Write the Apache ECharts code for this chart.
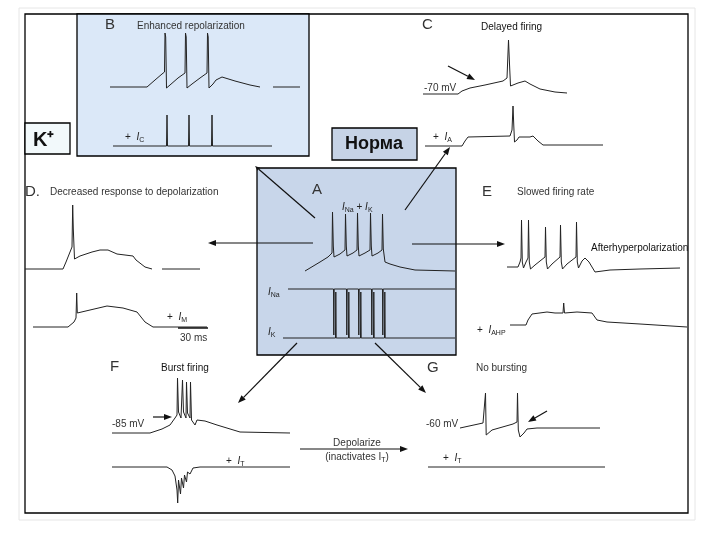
<!DOCTYPE html>
<html>
<head>
<meta charset="utf-8">
<script src="https://cdn.jsdelivr.net/npm/echarts@6/dist/echarts.min.js"></script>
<style>
  html, body { margin: 0; padding: 0; background: #fff; }
  #chart { width: 720px; height: 540px; }
</style>
</head>
<body>
<div id="chart"></div>
<script>
// traces: [time (ms), voltage (rel. units)], null = gap in the recording
// B - enhanced repolarization
const traceB1 = [[0,0],[37,0],[45,7],[52,13],[54.5,15],[55,54],[55.7,50],[56.5,-1],[60,2],[68,9],[75,14],[75.5,54],[76.2,50],[77,-1],[82,3],[90,9],[97,14],[97.5,54],[98.2,50],[99,-1],[103,3],[106,7],[112,10],[125,6],[140,2],[150,0],null,[163,0],[190,0]]
const traceB2 = [[0,0],[53.5,0],[54,31],[54.5,0],[75.5,0],[76,31],[76.5,0],[98.5,0],[99,31],[99.5,0],[159,0]]
// C - delayed firing
const traceC1 = [[0,0],[35,0],[39,3],[47,6],[62,9],[80,13],[84,16],[85.5,54],[86.5,30],[87.5,8],[89,10],[95,11],[102,13],[107,10],[117,5],[132,2],[144,1]]
const traceC2 = [[0,0],[37,0],[40,5],[43,9],[85,10],[87,16],[88,40],[88.8,20],[89.5,4],[92,6],[94,9],[105,9],[108,10],[113,5],[118,1],[178,1]]
// D - decreased response to depolarization
const traceD1 = [[0,0],[38,0],[41,7],[45,17],[47,22],[47.7,64],[48.3,40],[49.5,10],[55,13],[67,17],[75,19],[83,19],[92,15],[108,13],[111,9],[120,2],[127,0],null,[137,0],[175,0]]
const traceD2 = [[0,0],[35,0],[41,5],[43,9],[43.7,34],[44.3,14],[57,17],[74,21],[90,19],[104,15],[112,5],[120,0],[174,0]]
// A - normal firing, I_Na and I_K
const traceA1 = [[0,0],[5,3],[15,9],[23,14],[27,18],[27.5,59],[28.3,25],[29,14],[35,17],[40,21],[40.5,57],[41.3,25],[42,15],[48,18],[52,21],[52.5,58],[53.3,25],[54,15],[60,18],[65,21],[65.5,58],[66.3,25],[67,15],[73,18],[77,21],[77.5,57],[78.3,22],[80,9],[85,7],[95,4],[110,1],[150,0]]
const traceANa = [[0,0],[45.5,0],[45.8,-46],[46.2,0],[58.5,0],[58.8,-46],[59.2,0],[70.5,0],[70.8,-46],[71.2,0],[83.5,0],[83.8,-46],[84.2,0],[94.5,0],[94.8,-46],[95.2,0],[167,0]]
const traceAK = [[0,0],[52.5,0],[52.8,46],[53.2,0],[65.5,0],[65.8,46],[66.2,0],[77.5,0],[77.8,46],[78.2,0],[90.5,0],[90.8,46],[91.2,0],[101.5,0],[101.8,46],[102.2,0],[172,0]]
// E - slowed firing rate
const traceE1 = [[0,0],[11,0],[13,5],[14,9],[14.5,47],[15.3,5],[16.5,-1],[19,5],[21,9],[21.5,47],[22.3,5],[23.5,-2],[28,2],[38,10],[38.5,40],[39.3,5],[40.5,-2],[45,3],[53,10],[53.5,42],[54.3,5],[55.5,-2],[60,3],[69,10],[69.5,45],[70.3,5],[71.5,-1],[75,6],[78,9],[82,5],[88,-5],[103,-3],[133,-2],[173,-1]]
const traceE2 = [[0,0],[16,0],[18,5],[22,11],[37,13],[45,12],[53,12],[53.7,22],[54.5,12],[67,13],[82,12],[87,5],[97,3],[130,1],[177,-2]]
// F - burst firing
const traceF1 = [[0,0],[38,0],[50,4],[58,8],[63,15],[65,18],[65.5,55],[66.5,21],[69,15],[70.5,53],[71.5,21],[74,15],[74.5,51],[75.5,20],[78,15],[78.5,51],[79.5,13],[83,8],[85,13],[93,12],[105,8],[128,1],[178,0]]
const traceF2 = [[0,0],[55,0],[60,-3],[63,-9],[65,-23],[65.7,-36],[66.5,-13],[68.5,-27],[69.5,-11],[71.5,-21],[72.5,-8],[74.5,-15],[75.5,-5],[78,-7],[81,-1],[88,0],[178,0]]
// G - no bursting
const traceG1 = [[0,0],[23,5],[25,6],[25.5,35],[26.2,-7],[27.5,-9],[32,-2],[53,4],[57,6],[57.5,35],[58.3,-2],[60,-9],[64,-5],[67,-1],[77,0],[140,0]]
const traceG2 = [[0,0],[177,0]]

// where each trace starts on the page (left px, baseline px)
const anchors = [
  [traceB1, 110, 87], [traceB2, 113, 146],
  [traceC1, 423, 94], [traceC2, 425, 146],
  [traceD1, 25, 269], [traceD2, 33, 327],
  [traceA1, 305, 271], [traceANa, 288, 289], [traceAK, 283, 338],
  [traceE1, 507, 267], [traceE2, 510, 325],
  [traceF1, 112, 433], [traceF2, 112, 467],
  [traceG1, 460, 428], [traceG2, 428, 467]
]

const FONT = 'Liberation Sans, Arial, sans-serif'
const INK = '#222'

const grids = []
const xAxes = []
const yAxes = []
const series = []
anchors.forEach(function (a, i) {
  grids.push({ left: a[1], top: a[2] - 70, width: 200, height: 140, show: false })
  xAxes.push({ gridIndex: i, type: 'value', min: 0, max: 200, show: false })
  yAxes.push({ gridIndex: i, type: 'value', min: -70, max: 70, show: false })
  series.push({
    type: 'line',
    xAxisIndex: i,
    yAxisIndex: i,
    data: a[0].map(function (p) { return p || ['-', '-'] }),
    symbol: 'none',
    clip: false,
    silent: true,
    lineStyle: { width: 1, color: INK }
  })
})

function box (x, y, w, h, fill, stroke) {
  return { type: 'rect', z: 0, shape: { x: x, y: y, width: w, height: h },
    style: { fill: fill, stroke: stroke || '#000', lineWidth: 1.3 } }
}

function arrow (x1, y1, x2, y2, head) {
  const a = Math.atan2(y2 - y1, x2 - x1)
  const L = head || 8, W = L * 0.38
  const bx = x2 - L * Math.cos(a), by = y2 - L * Math.sin(a)
  const px = -Math.sin(a) * W, py = Math.cos(a) * W
  return [
    { type: 'line', z: 10, shape: { x1: x1, y1: y1, x2: bx, y2: by }, style: { stroke: '#111', lineWidth: 1.2 } },
    { type: 'polygon', z: 10, shape: { points: [[x2, y2], [bx + px, by + py], [bx - px, by - py]] }, style: { fill: '#111' } }
  ]
}

const rich = {
  i: { fontStyle: 'italic', fontSize: 10, fontFamily: FONT, fill: INK },
  s: { fontSize: 7, fontFamily: FONT, fill: INK, padding: [6, 0, 0, 0] },
  n: { fontSize: 10, fontFamily: FONT, fill: INK }
}

function label (x, y, text, size, opts) {
  opts = opts || {}
  return {
    type: 'text', z: 11, x: x, y: y,
    style: {
      text: text,
      fontSize: size || 10,
      fontFamily: FONT,
      fontWeight: opts.bold ? 'bold' : 'normal',
      fill: opts.color || '#333',
      align: opts.align || 'left',
      verticalAlign: 'middle',
      rich: rich
    }
  }
}

const graphics = [
  { type: 'rect', z: 0, shape: { x: 19, y: 8, width: 676, height: 512 }, style: { fill: 'none', stroke: '#e6e6e6', lineWidth: 1 } },
  box(25, 14, 663, 499, 'none'),
  box(77, 14, 232, 142, '#dbe8f8'),
  box(25, 123, 45, 31, '#f2f9fb'),
  box(332, 128, 85, 32, '#c6d3e6'),
  box(257, 168, 199, 187, '#c8d6ea'),
  // scale bar
  { type: 'line', z: 10, shape: { x1: 178, y1: 328, x2: 208, y2: 328 }, style: { stroke: '#111', lineWidth: 1.5 } },

  label(105, 25, 'B', 15),
  label(137, 26, 'Enhanced repolarization', 10),
  label(125, 137, '{n|+  }{i|I}{s|C}', 10),
  label(422, 25, 'C', 15),
  label(481, 27, 'Delayed firing', 10, { color: '#111' }),
  label(424, 88, '-70 mV', 10),
  label(433, 137, '{n|+  }{i|I}{s|A}', 10),
  label(33, 140, 'K⁺', 20, { bold: true, color: '#111' }),
  label(374, 144, 'Норма', 18, { bold: true, color: '#111', align: 'center' }),
  label(25, 192, 'D.', 15),
  label(50, 192, 'Decreased response to depolarization', 10),
  label(167, 317, '{n|+  }{i|I}{s|M}', 10),
  label(180, 338, '30 ms', 10),
  label(312, 190, 'A', 15),
  label(342, 207, '{i|I}{s|Na}{n| + }{i|I}{s|K}', 9),
  label(268, 292, '{i|I}{s|Na}', 10),
  label(268, 332, '{i|I}{s|K}', 10),
  label(482, 192, 'E', 15),
  label(517, 192, 'Slowed firing rate', 10),
  label(591, 248, 'Afterhyperpolarization', 10, { color: '#111' }),
  label(477, 330, '{n|+  }{i|I}{s|AHP}', 9),
  label(110, 367, 'F', 15),
  label(161, 368, 'Burst firing', 10, { color: '#111' }),
  label(112, 424, '-85 mV', 10),
  label(226, 461, '{n|+  }{i|I}{s|T}', 10),
  label(357, 443, 'Depolarize', 10, { align: 'center' }),
  label(357, 457, '(inactivates I{s|T})', 10, { align: 'center' }),
  label(427, 368, 'G', 15),
  label(476, 368, 'No bursting', 10),
  label(426, 424, '-60 mV', 10),
  label(443, 458, '{n|+  }{i|I}{s|T}', 10)
].concat(
  arrow(448, 66, 475, 80),
  arrow(315, 218, 255, 166, 5),
  arrow(405, 210, 450, 147),
  arrow(313, 243, 208, 243),
  arrow(412, 244, 505, 244),
  arrow(297, 343, 238, 403),
  arrow(375, 343, 426, 393),
  arrow(300, 449, 408, 449),
  arrow(153, 417, 172, 417),
  arrow(547, 411, 528, 422)
)

const chart = echarts.init(document.getElementById('chart'))
chart.setOption({
  animation: false,
  backgroundColor: '#fff',
  grid: grids,
  xAxis: xAxes,
  yAxis: yAxes,
  series: series,
  graphic: graphics
})
</script>
</body>
</html>
